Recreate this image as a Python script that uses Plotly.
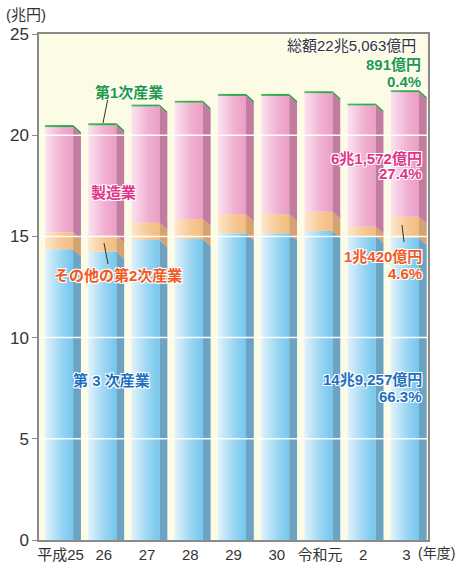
import plotly.graph_objects as go

# ---------------- data (兆円) ----------------
years = ["平成25<br>2013", "26", "27<br>2015", "28", "29<br>2017",
         "30", "令和元<br>2019", "2", "3<br>2021"]
tertiary = [14.36, 14.25, 14.82, 14.87, 15.15, 15.15, 15.27, 15.02, 14.93]
other_secondary = [0.84, 0.80, 0.86, 0.99, 0.95, 0.95, 0.95, 0.46, 1.04]
manufacturing = [5.20, 5.44, 5.74, 5.75, 5.84, 5.84, 5.86, 5.99, 6.16]
primary = [0.10, 0.10, 0.09, 0.09, 0.10, 0.10, 0.09, 0.09, 0.09]
y_ticks = [0, 5, 10, 15, 20, 25]

# ---------------- geometry / style ----------------
W, H = 458, 568
ML, MR, MT, MB = 39, 30, 34, 28
PW, PH = W - ML - MR, H - MT - MB

FRONT_L, FRONT_R, SIDE_R, SLANT = -0.36, 0.29, 0.47, 0.35

styles = [
    (tertiary, ["#e2f2fc", "#98d5f2", "#74c6ee"], "#6ca3c3"),
    (other_secondary, ["#fde7cd", "#f6c893", "#f2bc82"], "#d5a271"),
    (manufacturing, ["#fbe3f0", "#f0b0d1", "#eb9dc6"], "#c27ca0"),
    (primary, ["#4dbb63", "#2ea64b", "#2ea64b"], "#2a9a45"),
]

fig = go.Figure()
bases = [0.0] * len(years)
for vals, grad, side in styles:
    sx, sy = [], []
    for i, v in enumerate(vals):
        b = bases[i]
        t = b + v
        fig.add_trace(go.Scatter(
            x=[i + FRONT_L, i + FRONT_R, i + FRONT_R, i + FRONT_L, i + FRONT_L],
            y=[b, b, t, t, b],
            fill="toself", mode="lines", line=dict(width=0),
            fillgradient=dict(type="horizontal",
                              colorscale=[[0, grad[0]], [0.6, grad[1]], [1, grad[2]]]),
            hoverinfo="skip", showlegend=False))
        sx += [i + FRONT_R, i + SIDE_R, i + SIDE_R, i + FRONT_R, i + FRONT_R, None]
        sy += [t, t - SLANT, b - SLANT, b, t, None]
        bases[i] = t
    fig.add_trace(go.Scatter(x=sx, y=sy, fill="toself", fillcolor=side,
                             mode="lines", line=dict(width=0),
                             hoverinfo="skip", showlegend=False))

# white grid lines drawn above the bars
for yv in y_ticks[1:-1]:
    fig.add_shape(type="line", xref="paper", yref="y", x0=0, x1=1, y0=yv, y1=yv,
                  line=dict(color="rgba(255,255,255,0.95)", width=1.5), layer="above")


def px(xp, yp):
    return (xp - ML) / PW, (H - MB - yp) / PH


JP = "Liberation Sans, Noto Sans CJK JP, sans-serif"
OUTLINE = "1px 1px 0 #fff, -1px -1px 0 #fff, 1px -1px 0 #fff, -1px 1px 0 #fff"

def label(text, xp, yp, color, anchor="right", size=15, bold=True, shadow=True):
    x, y = px(xp, yp)
    fig.add_annotation(
        text=text, x=x, y=y, xref="paper", yref="paper", showarrow=False,
        xanchor=anchor, yanchor="middle", borderpad=0,
        font=dict(family=JP, size=size, color=color,
                  weight="bold" if bold else "normal",
                  shadow=OUTLINE if shadow else "none"))


GREEN, PINK, ORANGE, BLUE, DARK = "#1e9a48", "#e2338a", "#f05a1e", "#1f6fbf", "#333333"

label("(兆円)", 5, 15, DARK, anchor="left", size=15, bold=False, shadow=False)
label("総額22兆5,063億円", 417, 46, DARK, bold=False)
label("891億円", 422, 65, GREEN)
label("0.4%", 422, 81, GREEN)
label("第1次産業", 94, 92, GREEN, anchor="left")
label("製造業", 90, 192, PINK, anchor="left")
label("その他の第2次産業", 53, 275, ORANGE, anchor="left")
label("第 3 次産業", 72, 380, BLUE, anchor="left")
label("6兆1,572億円", 423, 158, PINK)
label("27.4%", 423, 174, PINK)
label("1兆420億円", 423, 256, ORANGE)
label("4.6%", 423, 273, ORANGE)
label("14兆9,257億円", 423, 379, BLUE)
label("66.3%", 423, 396, BLUE)
label("(年度)", 417, 553, DARK, anchor="left", size=14, bold=False, shadow=False)

for (x0, y0, x1, y1) in [(108, 98, 103, 123), (104, 243, 108, 264), (402, 225, 404, 242)]:
    a0, b0 = px(x0, y0)
    a1, b1 = px(x1, y1)
    fig.add_shape(type="line", xref="paper", yref="paper", x0=a0, y0=b0, x1=a1, y1=b1,
                  line=dict(color="#333333", width=1), layer="above")

fig.update_layout(
    width=W, height=H,
    margin=dict(l=ML, r=MR, t=MT, b=MB, autoexpand=False),
    paper_bgcolor="white", plot_bgcolor="#fcfbe6",
    showlegend=False,
    font=dict(family=JP, size=15, color=DARK),
)
fig.update_xaxes(range=[-0.5, len(years) - 0.5], tickvals=list(range(len(years))),
                 ticktext=years, showgrid=False, zeroline=False, automargin=False,
                 showline=True, mirror=True, linecolor="#8a8a8a", linewidth=1.5,
                 ticks="", tickfont=dict(size=15, color=DARK))
fig.update_yaxes(range=[0, 25], tickvals=y_ticks, showgrid=False, zeroline=False,
                 automargin=False,
                 showline=True, mirror=True, linecolor="#8a8a8a", linewidth=1.5,
                 ticks="outside", ticklen=5, tickcolor="#8a8a8a",
                 tickfont=dict(size=17, color=DARK))

fig.write_html("out.html", config={"displayModeBar": False},
               post_script="document.body.style.margin='0';")
